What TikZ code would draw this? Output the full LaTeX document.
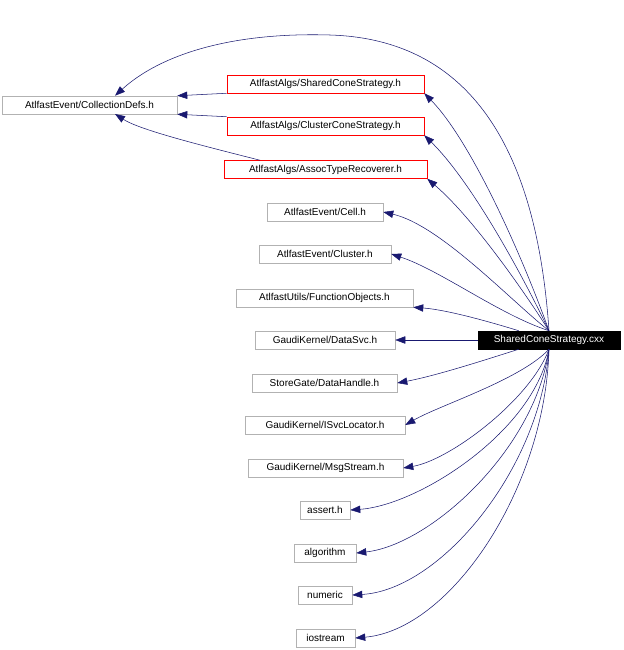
\documentclass[tikz,border=0pt]{standalone}
\usepackage{fontspec}
\setmainfont{Liberation Sans}
\usetikzlibrary{arrows.meta}
\definecolor{edge}{HTML}{191970}
\begin{document}
\begin{tikzpicture}[x=0.75pt,y=-0.75pt,
  box/.style={draw=black!30,fill=white,inner sep=0pt,minimum height=13.5pt,font=\fontsize{7.5}{9}\selectfont},
  redbox/.style={box,draw=red},
  arr/.style={draw=edge,-{Stealth[length=7.5pt,width=5.5pt,inset=0pt]}}]
\useasboundingbox (0,0) rectangle (624,650);
\node[box,minimum width=131.25pt] (coll) at (89.5,105) {AtlfastEvent/CollectionDefs.h};
\node[redbox,minimum width=147.75pt] (shared) at (325.5,84) {AtlfastAlgs/SharedConeStrategy.h};
\node[redbox,minimum width=147.75pt] (clcone) at (325.5,126) {AtlfastAlgs/ClusterConeStrategy.h};
\node[redbox,minimum width=152.25pt] (assoc) at (325.5,169.5) {AtlfastAlgs/AssocTypeRecoverer.h};
\node[box,minimum width=87pt] (cell) at (325,212) {AtlfastEvent/Cell.h};
\node[box,minimum width=99pt] (cluster) at (325,254) {AtlfastEvent/Cluster.h};
\node[box,minimum width=132.75pt] (func) at (324.5,298) {AtlfastUtils/FunctionObjects.h};
\node[box,minimum width=105pt] (datasvc) at (325,340) {GaudiKernel/DataSvc.h};
\node[box,minimum width=108.75pt] (dh) at (324.5,383) {StoreGate/DataHandle.h};
\node[box,minimum width=120pt] (isvc) at (325,425) {GaudiKernel/ISvcLocator.h};
\node[box,minimum width=116.25pt] (msg) at (325.5,468) {GaudiKernel/MsgStream.h};
\node[box,minimum width=37.5pt] (assert) at (325,510) {assert.h};
\node[box,minimum width=46.5pt] (algo) at (325,553) {algorithm};
\node[box,minimum width=40.5pt] (num) at (325,595) {numeric};
\node[box,minimum width=44.25pt] (ios) at (325.5,638) {iostream};
\node[box,draw=black,fill=black,text=white,minimum width=106.5pt] (cxx) at (549,340) {SharedConeStrategy.cxx};
\coordinate (top) at (330,35);
\draw[arr] (cxx.north) .. controls (540,200) and (500,40) .. (top) .. controls (230,32) and (160,55) .. (coll.north west -| 115,0) ;
\draw[arr] (cxx.north) .. controls (520,250) and (470,140) .. (shared.south east);
\draw[arr] (cxx.north) .. controls (520,270) and (470,180) .. (clcone.south east);
\draw[arr] (cxx.north) .. controls (520,285) and (470,215) .. (assoc.south east);
\draw[arr] (cxx.north) .. controls (510,300) and (440,225) .. (cell.east);
\draw[arr] (cxx.north) .. controls (500,315) and (440,270) .. (cluster.east);
\draw[arr] (cxx) .. controls (500,325) and (450,310) .. (func.south east);
\draw[arr] (cxx) -- (datasvc);
\draw[arr] (cxx) .. controls (500,355) and (440,375) .. (dh.east);
\draw[arr] (cxx.south) .. controls (520,380) and (440,405) .. (isvc.east);
\draw[arr] (cxx.south) .. controls (530,400) and (450,460) .. (msg.east);
\draw[arr] (cxx.south) .. controls (535,430) and (420,505) .. (assert.east);
\draw[arr] (cxx.south) .. controls (535,450) and (430,545) .. (algo.east);
\draw[arr] (cxx.south) .. controls (540,470) and (440,590) .. (num.east);
\draw[arr] (cxx.south) .. controls (545,490) and (450,630) .. (ios.east);
\draw[arr] (shared.south west) -- (coll.north east);
\draw[arr] (clcone.north west) -- (coll.south east);
\draw[arr] (assoc.north west -| 260,0) .. controls (200,145) and (140,130) .. (115,114);
\end{tikzpicture}
\end{document}
